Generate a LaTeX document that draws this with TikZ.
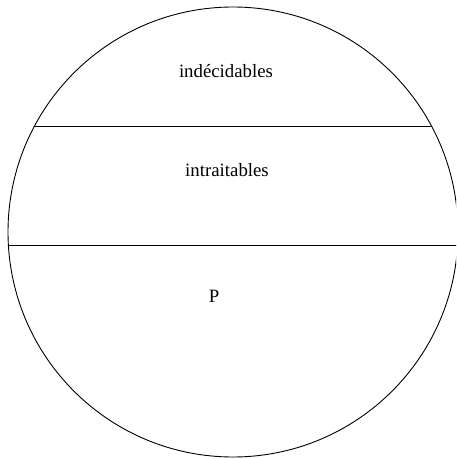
\documentclass[tikz,border=0pt]{standalone}
\usepackage{fontspec}
\setmainfont{Liberation Serif}
\begin{document}
\begin{tikzpicture}[
  x=0.5pt,
  y=-0.5pt,
  every node/.style={font=\fontsize{9.4}{11}\selectfont},
  outline/.style={draw=black, line width=0.45pt},
  divider/.style={draw=black, line width=0.5pt}
]
  \useasboundingbox (0,0) rectangle (456,459);
  \clip (0,0) rectangle (456,459);

  \draw[outline] (233,232) circle [radius=225];

  \coordinate (top-l) at (34,127);
  \coordinate (top-r) at (432,127);
  \coordinate (mid-l) at (8.4,246);
  \coordinate (mid-r) at (460,246);
  \draw[divider] (top-l) -- (top-r);
  \draw[divider] (mid-l) -- (mid-r);

  \node (undec) at (226,71) {indécidables};
  \node (intract) at (227,170) {intraitables};
  \node (poly) at (214,296) {P};
\end{tikzpicture}
\end{document}
